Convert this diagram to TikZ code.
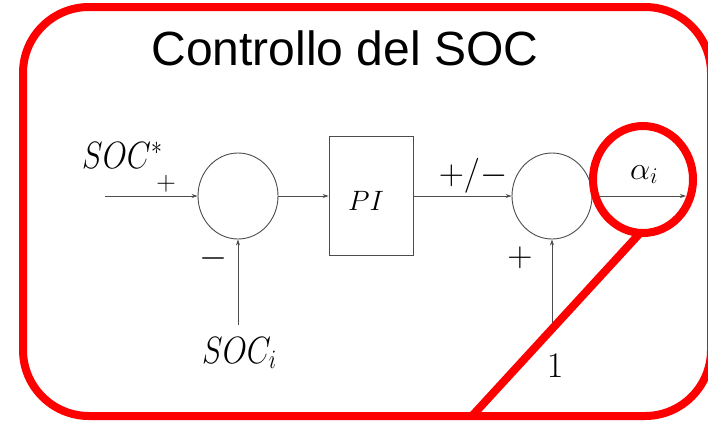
\RequirePackage{fix-cm}
\documentclass[tikz,border=0pt]{standalone}
\usepackage{fontspec}
\usetikzlibrary{shapes.geometric,arrows.meta}
\newfontfamily\titlefont{Liberation Sans}
\begin{document}
\begin{tikzpicture}[x=1pt,y=1pt,
  blk/.style={draw=black!70, line width=0.9pt},
  sumnode/.style={ellipse, draw=black!70, line width=0.9pt, minimum width=80pt, minimum height=86pt, inner sep=0pt},
  pibox/.style={rectangle, draw=black!70, line width=0.9pt, minimum width=84pt, minimum height=119pt, inner sep=0pt},
  sig/.style={blk, -{Stealth[length=6pt,width=4pt]}},
  redline/.style={draw=red, line width=8pt},
  lbl/.style={inner sep=0pt, text=black},
]
\useasboundingbox (0,0) rectangle (708,-423);
\clip (0,0) rectangle (708,-423);
\node[lbl, anchor=base, font=\titlefont\fontsize{48}{56}\selectfont] (title) at (345,-65) {Controllo del SOC};
\node[sumnode] (s1) at (238,-196) {};
\node[pibox] (pi) at (371,-196) {};
\node[lbl, font=\fontsize{28}{32}\selectfont, anchor=base] (pit) at (366,-210) {$PI$};
\node[sumnode] (s2) at (552,-196) {};
\coordinate (in) at (105,-196);
\coordinate (out) at (686,-196);
\coordinate (socb) at (238,-325);
\coordinate (oneb) at (552,-323);
\draw[sig] (in) -- (s1.west);
\draw[sig] (s1.east) -- (pi.west);
\draw[sig] (pi.east) -- (s2.west);
\draw[sig] (s2.east) -- (out);
\draw[sig] (socb) -- (s1.south);
\draw[sig] (oneb) -- (s2.south);
\node[lbl, anchor=base west, font=\fontsize{38}{44}\selectfont] (socstar) at (82,-168) {\scalebox{0.82}[1]{$SOC^*$}};
\node[lbl, font=\fontsize{27}{30}\selectfont] (p1) at (166,-184) {$+$};
\node[lbl, font=\fontsize{36}{40}\selectfont] (m1) at (213,-258) {$-$};
\node[lbl, anchor=base west, font=\fontsize{38}{44}\selectfont] (soci) at (202,-363) {\scalebox{0.82}[1]{$SOC_i$}};
\node[lbl, anchor=base, font=\fontsize{35}{40}\selectfont] (pm) at (473,-184) {$+/{-}$};
\node[lbl, font=\fontsize{35}{40}\selectfont] (p2) at (520,-258) {$+$};
\node[lbl, anchor=base, font=\fontsize{36}{40}\selectfont] (one) at (555,-377) {$1$};
\node[lbl, anchor=base west, font=\fontsize{32}{36}\selectfont] (alpha) at (630,-179) {$\alpha_i$};
\draw[redline, rounded corners=66pt] (23,-7) rectangle (711,-416);
\node[ellipse, draw=red, line width=8pt, minimum width=100pt, minimum height=107pt, inner sep=0pt, outer sep=0pt] (hl) at (643,-179.5) {};
\coordinate (hlend) at (472,-416);
\draw[redline] (hl.-93) -- (hlend);
\end{tikzpicture}
\end{document}
